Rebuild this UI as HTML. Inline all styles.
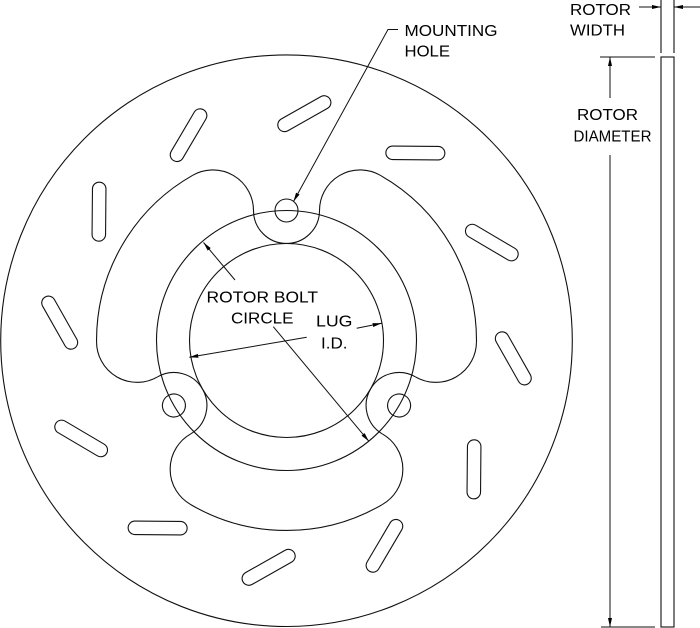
<!DOCTYPE html>
<html>
<head>
<meta charset="utf-8">
<style>
html,body{margin:0;padding:0;background:#fff;}
svg{display:block;}
text{font-family:"Liberation Sans",Arial,sans-serif;font-size:16px;fill:#000;}
</style>
</head>
<body>
<svg width="700" height="628" viewBox="0 0 700 628" xmlns="http://www.w3.org/2000/svg">
<defs>
<marker id="ah" markerUnits="userSpaceOnUse" markerWidth="10" markerHeight="8" refX="9" refY="2" orient="auto">
<path d="M0,0 L9,2 L0,4 z" fill="#000"/>
</marker>
</defs>
<rect width="700" height="628" fill="#fff"/>
<g fill="none" stroke="#111" stroke-width="1.1">
<!-- outer disc -->
<circle cx="286.5" cy="340.7" r="285.8"/>
<!-- bolt circle & lug ID -->
<circle cx="286.5" cy="340.5" r="130"/>
<circle cx="286.5" cy="340.5" r="97"/>

<!-- hat outline, 3-fold -->
<g id="third">
<path d="M253.5,210.5 A33,33 0 0 0 319.5,210.5"/>
<path d="M319.5,210.5 A40.6,40.6 0 0 1 380.1,175.2"/>
<path d="M192.9,175.2 A40.6,40.6 0 0 1 253.5,210.5"/>
<path d="M380.1,175.2 A190,190 0 0 1 476.49,342.09"/>
<circle cx="286.5" cy="210.5" r="11.5"/>
</g>
<g transform="rotate(120 286.5 340.5)">
<path d="M253.5,210.5 A33,33 0 0 0 319.5,210.5"/>
<path d="M319.5,210.5 A40.6,40.6 0 0 1 380.1,175.2"/>
<path d="M192.9,175.2 A40.6,40.6 0 0 1 253.5,210.5"/>
<path d="M380.1,175.2 A190,190 0 0 1 476.49,342.09"/>
<circle cx="286.5" cy="210.5" r="11.5"/>
</g>
<g transform="rotate(240 286.5 340.5)">
<path d="M253.5,210.5 A33,33 0 0 0 319.5,210.5"/>
<path d="M319.5,210.5 A40.6,40.6 0 0 1 380.1,175.2"/>
<path d="M192.9,175.2 A40.6,40.6 0 0 1 253.5,210.5"/>
<path d="M380.1,175.2 A190,190 0 0 1 476.49,342.09"/>
<circle cx="286.5" cy="210.5" r="11.5"/>
</g>

<!-- slots -->
<g transform="rotate(0 286.5 340.5)"><rect x="-29.5" y="-6.75" width="59" height="13.5" rx="6.75" transform="translate(513.3,358.35) rotate(60.5)"/></g>
<g transform="rotate(30 286.5 340.5)"><rect x="-29.5" y="-6.75" width="59" height="13.5" rx="6.75" transform="translate(513.3,358.35) rotate(60.5)"/></g>
<g transform="rotate(60 286.5 340.5)"><rect x="-29.5" y="-6.75" width="59" height="13.5" rx="6.75" transform="translate(513.3,358.35) rotate(60.5)"/></g>
<g transform="rotate(90 286.5 340.5)"><rect x="-29.5" y="-6.75" width="59" height="13.5" rx="6.75" transform="translate(513.3,358.35) rotate(60.5)"/></g>
<g transform="rotate(120 286.5 340.5)"><rect x="-29.5" y="-6.75" width="59" height="13.5" rx="6.75" transform="translate(513.3,358.35) rotate(60.5)"/></g>
<g transform="rotate(150 286.5 340.5)"><rect x="-29.5" y="-6.75" width="59" height="13.5" rx="6.75" transform="translate(513.3,358.35) rotate(60.5)"/></g>
<g transform="rotate(180 286.5 340.5)"><rect x="-29.5" y="-6.75" width="59" height="13.5" rx="6.75" transform="translate(513.3,358.35) rotate(60.5)"/></g>
<g transform="rotate(210 286.5 340.5)"><rect x="-29.5" y="-6.75" width="59" height="13.5" rx="6.75" transform="translate(513.3,358.35) rotate(60.5)"/></g>
<g transform="rotate(240 286.5 340.5)"><rect x="-29.5" y="-6.75" width="59" height="13.5" rx="6.75" transform="translate(513.3,358.35) rotate(60.5)"/></g>
<g transform="rotate(270 286.5 340.5)"><rect x="-29.5" y="-6.75" width="59" height="13.5" rx="6.75" transform="translate(513.3,358.35) rotate(60.5)"/></g>
<g transform="rotate(300 286.5 340.5)"><rect x="-29.5" y="-6.75" width="59" height="13.5" rx="6.75" transform="translate(513.3,358.35) rotate(60.5)"/></g>
<g transform="rotate(330 286.5 340.5)"><rect x="-29.5" y="-6.75" width="59" height="13.5" rx="6.75" transform="translate(513.3,358.35) rotate(60.5)"/></g>

<!-- side view -->
<rect x="661" y="57" width="13" height="570"/>
<line x1="661" y1="0" x2="661" y2="53"/>
<line x1="674" y1="0" x2="674" y2="53"/>
<line x1="600" y1="57" x2="655" y2="57"/>
<line x1="601" y1="627" x2="655" y2="627"/>
</g>

<!-- leaders & dimension arrows -->
<g fill="none" stroke="#111" stroke-width="1">
<line x1="639" y1="7" x2="661" y2="7" marker-end="url(#ah)"/>
<line x1="700" y1="7" x2="674" y2="7" marker-end="url(#ah)"/>
<line x1="610" y1="98" x2="610" y2="57" marker-end="url(#ah)"/>
<line x1="610" y1="155" x2="610" y2="627" marker-end="url(#ah)"/>
<polyline points="398,29.5 388,29.5 293.5,201.5" marker-end="url(#ah)"/>
<line x1="235" y1="280" x2="203.5" y2="242.5" marker-end="url(#ah)"/>
<line x1="273.3" y1="326.7" x2="368.8" y2="441.2" marker-end="url(#ah)"/>
<line x1="306.7" y1="337.3" x2="189.3" y2="357.3" marker-end="url(#ah)"/>
<line x1="356.7" y1="328.3" x2="381.7" y2="323.3" marker-end="url(#ah)"/>
</g>

<!-- labels -->
<text x="570" y="15" textLength="61" lengthAdjust="spacingAndGlyphs">ROTOR</text>
<text x="570" y="35.7" textLength="55" lengthAdjust="spacingAndGlyphs">WIDTH</text>
<text x="577" y="120" textLength="61" lengthAdjust="spacingAndGlyphs">ROTOR</text>
<text x="573.5" y="141.7" textLength="78" lengthAdjust="spacingAndGlyphs">DIAMETER</text>
<text x="404.5" y="36" textLength="93" lengthAdjust="spacingAndGlyphs">MOUNTING</text>
<text x="404.5" y="56.7" textLength="45.5" lengthAdjust="spacingAndGlyphs">HOLE</text>
<text x="206.5" y="302.7" textLength="111.5" lengthAdjust="spacingAndGlyphs">ROTOR BOLT</text>
<text x="231" y="323.3" textLength="62.5" lengthAdjust="spacingAndGlyphs">CIRCLE</text>
<text x="316" y="326.7" textLength="36.5" lengthAdjust="spacingAndGlyphs">LUG</text>
<text x="321" y="348.3" textLength="26.5" lengthAdjust="spacingAndGlyphs">I.D.</text>
</svg>
</body>
</html>
